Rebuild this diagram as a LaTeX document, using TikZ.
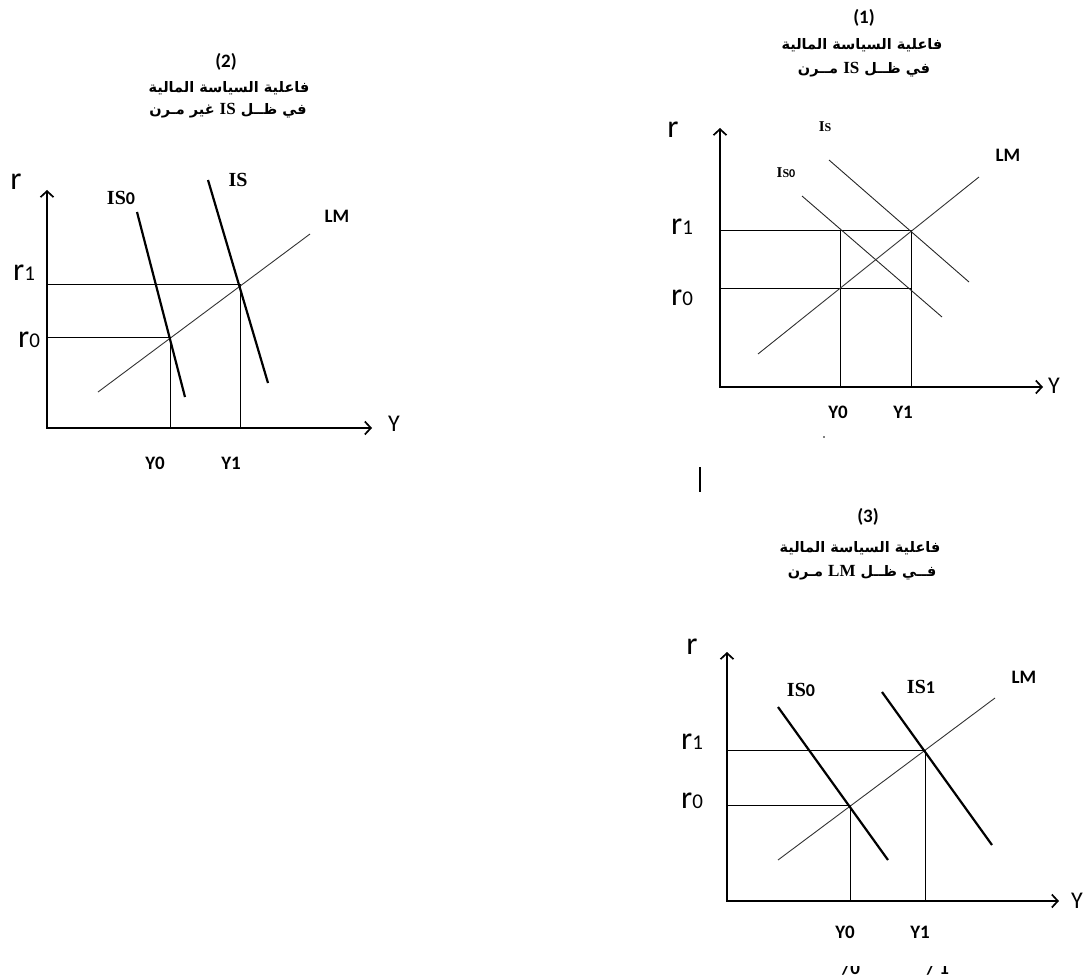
\documentclass[tikz,border=0pt]{standalone}
\usepackage{fontspec}
\setmainfont{Carlito}
\newfontfamily\arabicfont[Script=Arabic]{DejaVu Sans}
\newfontfamily\serifl{Liberation Serif}
\TeXXeTstate=1
\usetikzlibrary{arrows.meta}
\newcommand{\rlab}[1]{{\fontsize{32}{32}\selectfont r\fontsize{21}{21}\selectfont #1}}
\newcommand{\islab}[1]{{\serifl\bfseries\fontsize{20}{20}\selectfont IS\fontsize{18}{18}\selectfont\normalfont\bfseries #1}}
\newcommand{\smallis}[1]{{\serifl\bfseries\fontsize{15}{15}\selectfont I\fontsize{12}{12}\selectfont S\normalfont\bfseries\fontsize{12}{12}\selectfont #1}}
\newcommand{\artitle}[1]{{\arabicfont\bfseries\fontsize{14.5}{14.5}\selectfont\beginR #1\endR}}
\newcommand{\latinin}[1]{\beginL{\serifl\bfseries\fontsize{17}{17}\selectfont #1}\endL}
\begin{document}
\begin{tikzpicture}[x=1pt,y=-1pt,
  axis/.style={line width=2.2pt, {Straight Barb[length=6pt,width=13pt,line width=1.7pt]}-{Straight Barb[length=6pt,width=13pt,line width=1.7pt]}},
  guide/.style={line width=0.9pt},
  lmline/.style={line width=0.9pt, black!80},
  thickis/.style={line width=2.2pt},
  thinis/.style={line width=0.9pt, black!85},
  lab/.style={inner sep=0pt, anchor=center},
  rl/.style={lab, font=\fontsize{32}{32}\selectfont},
  yl/.style={lab, font=\fontsize{24}{24}\selectfont},
  bl/.style={lab, font=\bfseries\fontsize{19}{19}\selectfont},
  num/.style={lab, font=\bfseries\fontsize{19}{19}\selectfont}
]
\useasboundingbox (0,0) rectangle (1085,979);

% ---------------- Diagram (2) ----------------
\node[num] (t2n) at (226,62) {(2)};
\node[lab] (t2a) at (229,88) {\artitle{فاعلية السياسة المالية}};
\node[lab] (t2b) at (228,111) {\artitle{في ظــل \latinin{IS} غير مـرن}};

\coordinate (o2) at (47,428);
\coordinate (yt2) at (47,190);
\coordinate (xt2) at (372,428);
\draw[axis] (yt2) -- (o2) -- (xt2);
\coordinate (r1a2) at (47,284);
\coordinate (r1b2) at (240,284);
\coordinate (y1b2) at (240,428);
\coordinate (r0a2) at (47,337);
\coordinate (r0b2) at (170,337);
\coordinate (y0b2) at (170,428);
\draw[guide] (r1a2) -- (r1b2) -- (y1b2);
\draw[guide] (r0a2) -- (r0b2) -- (y0b2);
\coordinate (is0a2) at (137,212);
\coordinate (is0b2) at (185,397);
\coordinate (isa2) at (208,180);
\coordinate (isb2) at (268,383);
\coordinate (lma2) at (98,392);
\coordinate (lmb2) at (310,234);
\draw[lmline] (lma2) -- (lmb2);
\draw[thickis] (is0a2) -- (is0b2);
\draw[thickis] (isa2) -- (isb2);

\node[rl] (r2) at (16,182) {r};
\node[lab] (r12) at (24,273) {\rlab{1}};
\node[lab] (r02) at (29,340) {\rlab{0}};
\node[lab] (is02) at (121,198) {\islab{0}};
\node[lab] (is2) at (238,180) {\islab{}};
\node[bl] (lm2) at (337,216) {LM};
\node[yl] (y2) at (394,424) {Y};
\node[bl] (y02) at (155,463) {Y0};
\node[bl] (y12) at (231,463) {Y1};

% ---------------- Diagram (1) ----------------
\node[num] (t1n) at (864,18) {(1)};
\node[lab] (t1a) at (862,45) {\artitle{فاعلية السياسة المالية}};
\node[lab] (t1b) at (864,70) {\artitle{في ظــل \latinin{IS} مــرن}};

\coordinate (o1) at (720,387);
\coordinate (yt1) at (720,128);
\coordinate (xt1) at (1043,387);
\draw[axis] (yt1) -- (o1) -- (xt1);
\coordinate (r1a1) at (720,230);
\coordinate (r1b1) at (911,230);
\coordinate (r0a1) at (720,288);
\coordinate (r0b1) at (911,288);
\coordinate (v0a1) at (840,230);
\coordinate (v0b1) at (840,387);
\coordinate (v1b1) at (911,387);
\draw[guide] (r1a1) -- (r1b1) -- (v1b1);
\draw[guide] (r0a1) -- (r0b1);
\draw[guide] (v0a1) -- (v0b1);
\coordinate (is0a1) at (802,196);
\coordinate (is0b1) at (942,317);
\coordinate (isa1) at (829,160);
\coordinate (isb1) at (969,282);
\coordinate (lma1) at (758,354);
\coordinate (lmb1) at (979,177);
\draw[thinis] (is0a1) -- (is0b1);
\draw[thinis] (isa1) -- (isb1);
\draw[lmline] (lma1) -- (lmb1);

\node[rl] (r1) at (673,130) {r};
\node[lab] (r11) at (682,227) {\rlab{1}};
\node[lab] (r01) at (682,298) {\rlab{0}};
\node[lab] (is1) at (825,127) {\smallis{}};
\node[lab] (is01) at (786,173) {\smallis{0}};
\node[bl] (lm1) at (1008,155) {LM};
\node[yl] (y1) at (1054,386) {Y};
\node[bl] (y01) at (838,412) {Y0};
\node[bl] (y11) at (903,412) {Y1};
\fill (824,437) circle (0.9);

% separator mark
\coordinate (bara) at (700,467);
\coordinate (barb) at (700,492);
\draw[line width=1.5pt] (bara) -- (barb);

% ---------------- Diagram (3) ----------------
\node[num] (t3n) at (868,517) {(3)};
\node[lab] (t3a) at (860,548) {\artitle{فاعلية السياسة المالية}};
\node[lab] (t3b) at (862,573) {\artitle{فــي ظــل \latinin{LM} مـرن}};

\coordinate (o3) at (727,901);
\coordinate (yt3) at (727,652);
\coordinate (xt3) at (1059,901);
\draw[axis] (yt3) -- (o3) -- (xt3);
\coordinate (r1a3) at (727,750);
\coordinate (r1b3) at (925,750);
\coordinate (v1b3) at (925,901);
\coordinate (r0a3) at (727,805);
\coordinate (r0b3) at (850,805);
\coordinate (v0b3) at (850,901);
\draw[guide] (r1a3) -- (r1b3) -- (v1b3);
\draw[guide] (r0a3) -- (r0b3) -- (v0b3);
\coordinate (is0a3) at (778,707);
\coordinate (is0b3) at (888,860);
\coordinate (is1a3) at (882,692);
\coordinate (is1b3) at (992,845);
\coordinate (lma3) at (778,860);
\coordinate (lmb3) at (995,698);
\draw[lmline] (lma3) -- (lmb3);
\draw[thickis] (is0a3) -- (is0b3);
\draw[thickis] (is1a3) -- (is1b3);

\node[rl] (r3) at (692,647) {r};
\node[lab] (r13) at (692,742) {\rlab{1}};
\node[lab] (r03) at (692,801) {\rlab{0}};
\node[lab] (is03) at (801,690) {\islab{0}};
\node[lab] (is13) at (921,687) {\islab{1}};
\node[bl] (lm3) at (1024,677) {LM};
\node[yl] (y3) at (1077,901) {Y};
\node[bl] (y03) at (845,932) {Y0};
\node[bl] (y13) at (920,932) {Y1};

\begin{scope}
  \clip (830,966) rectangle (960,979);
  \node[bl] (p0) at (851,968) {/0};
  \node[bl] (p1) at (938,968) {/ 1};
\end{scope}
\end{tikzpicture}
\end{document}
